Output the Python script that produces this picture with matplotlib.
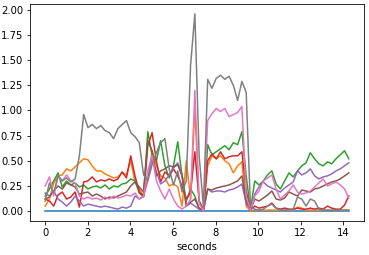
import numpy as np
import matplotlib
matplotlib.use("Agg")
import matplotlib.pyplot as plt

# time axis, ~0.2 s steps
t = np.linspace(0, 14.26, 72)

blue = [0.0] * 72
orange = [0.05, 0.12, 0.28, 0.35, 0.36, 0.42, 0.40, 0.44, 0.48, 0.52,
          0.51, 0.45, 0.40, 0.40, 0.37, 0.35, 0.33, 0.34, 0.38, 0.36,
          0.50, 0.29, 0.22, 0.15, 0.30, 0.60, 0.45, 0.35, 0.33, 0.25,
          0.27, 0.24, 0.05, 0.50, 0.12, 1.02, 0.10, 0.00, 0.45, 0.55,
          0.52, 0.55, 0.50, 0.47, 0.38, 0.45, 0.49, 0.05, 0.00, 0.01,
          0.01, 0.01, 0.01, 0.01, 0.01, 0.01, 0.01, 0.01, 0.01, 0.04,
          0.03, 0.01, 0.01, 0.01, 0.01, 0.01, 0.01, 0.01, 0.01, 0.01,
          0.01, 0.01]
green = [0.15, 0.22, 0.30, 0.38, 0.24, 0.30, 0.26, 0.28, 0.24, 0.26,
         0.22, 0.24, 0.25, 0.23, 0.26, 0.22, 0.25, 0.24, 0.27, 0.28,
         0.32, 0.30, 0.18, 0.14, 0.79, 0.55, 0.50, 0.70, 0.45, 0.33,
         0.45, 0.69, 0.35, 0.10, 0.22, 0.15, 0.02, 0.00, 0.66, 0.56,
         0.59, 0.62, 0.65, 0.61, 0.68, 0.66, 0.79, 0.35, 0.01, 0.30,
         0.26, 0.30, 0.36, 0.40, 0.27, 0.22, 0.30, 0.38, 0.34, 0.40,
         0.45, 0.48, 0.58, 0.52, 0.47, 0.45, 0.49, 0.47, 0.52, 0.56,
         0.60, 0.52]
red = [0.12, 0.10, 0.05, 0.16, 0.19, 0.12, 0.14, 0.19, 0.04, 0.29,
       0.30, 0.34, 0.29, 0.31, 0.30, 0.32, 0.30, 0.32, 0.39, 0.33,
       0.55, 0.35, 0.19, 0.15, 0.65, 0.78, 0.50, 0.29, 0.39, 0.35,
       0.42, 0.35, 0.25, 0.12, 0.19, 0.59, 0.10, 0.02, 0.50, 0.57,
       0.52, 0.59, 0.52, 0.54, 0.55, 0.55, 0.59, 0.20, 0.01, 0.05,
       0.03, 0.04, 0.05, 0.08, 0.03, 0.02, 0.03, 0.02, 0.02, 0.03,
       0.02, 0.02, 0.03, 0.02, 0.03, 0.02, 0.05, 0.03, 0.02, 0.02,
       0.06, 0.15]
purple = [0.18, 0.15, 0.20, 0.12, 0.09, 0.05, 0.09, 0.15, 0.10, 0.05,
          0.07, 0.06, 0.05, 0.04, 0.05, 0.04, 0.03, 0.02, 0.04, 0.03,
          0.05, 0.15, 0.12, 0.15, 0.33, 0.52, 0.39, 0.27, 0.30, 0.36,
          0.43, 0.48, 0.37, 0.05, 0.08, 0.05, 0.02, 0.00, 0.22, 0.19,
          0.20, 0.20, 0.19, 0.21, 0.22, 0.24, 0.27, 0.08, 0.01, 0.17,
          0.24, 0.29, 0.25, 0.23, 0.21, 0.19, 0.23, 0.26, 0.29, 0.40,
          0.36, 0.38, 0.42, 0.35, 0.32, 0.34, 0.35, 0.37, 0.40, 0.42,
          0.45, 0.48]
brown = [0.12, 0.14, 0.20, 0.25, 0.22, 0.28, 0.26, 0.24, 0.17, 0.18,
         0.19, 0.15, 0.17, 0.15, 0.12, 0.14, 0.13, 0.15, 0.17, 0.19,
         0.25, 0.29, 0.24, 0.19, 0.70, 0.60, 0.35, 0.40, 0.42, 0.45,
         0.44, 0.46, 0.35, 0.05, 0.09, 0.12, 0.03, 0.01, 0.22, 0.21,
         0.23, 0.24, 0.25, 0.26, 0.28, 0.30, 0.35, 0.10, 0.01, 0.12,
         0.10, 0.13, 0.16, 0.20, 0.12, 0.11, 0.13, 0.19, 0.17, 0.15,
         0.21, 0.20, 0.19, 0.22, 0.23, 0.25, 0.27, 0.29, 0.30, 0.32,
         0.35, 0.38]
pink = [0.25, 0.34, 0.15, 0.35, 0.30, 0.36, 0.30, 0.28, 0.15, 0.12,
        0.14, 0.12, 0.13, 0.11, 0.14, 0.12, 0.15, 0.13, 0.14, 0.16,
        0.15, 0.18, 0.12, 0.15, 0.40, 0.55, 0.30, 0.20, 0.12, 0.22,
        0.12, 0.05, 0.02, 0.05, 0.12, 1.20, 0.08, 0.00, 0.90, 0.97,
        1.02, 0.99, 1.02, 0.94, 0.96, 0.98, 1.04, 0.15, 0.01, 0.15,
        0.20, 0.30, 0.33, 0.36, 0.22, 0.12, 0.16, 0.20, 0.26, 0.19,
        0.17, 0.18, 0.20, 0.24, 0.28, 0.32, 0.25, 0.27, 0.29, 0.26,
        0.22, 0.13]
gray = [0.10, 0.28, 0.18, 0.35, 0.30, 0.33, 0.29, 0.32, 0.55, 0.96,
        0.83, 0.86, 0.82, 0.85, 0.80, 0.78, 0.72, 0.82, 0.86, 0.90,
        0.78, 0.74, 0.68, 0.36, 0.30, 0.46, 0.58, 0.68, 0.72, 0.42,
        0.26, 0.40, 0.19, 0.30, 1.45, 1.96, 0.55, 0.04, 1.31, 1.22,
        1.32, 1.35, 1.31, 1.34, 1.25, 1.10, 1.29, 1.18, 0.04, 0.02,
        0.01, 0.02, 0.05, 0.07, 0.03, 0.01, 0.01, 0.01, 0.02, 0.14,
        0.12, 0.05, 0.12, 0.10, 0.02, 0.01, 0.01, 0.01, 0.01, 0.01,
        0.01, 0.01]

series = [blue, orange, green, red, purple, brown, pink, gray]

fig = plt.figure(figsize=(369 / 72, 255 / 72), dpi=72)
ax = fig.add_axes([30 / 369, 1 - 221 / 255, 334 / 369, 217 / 255])
for s in series:
    ax.plot(t, s)
ax.set_xlabel("seconds")
fig.savefig("out.png", dpi=72)
